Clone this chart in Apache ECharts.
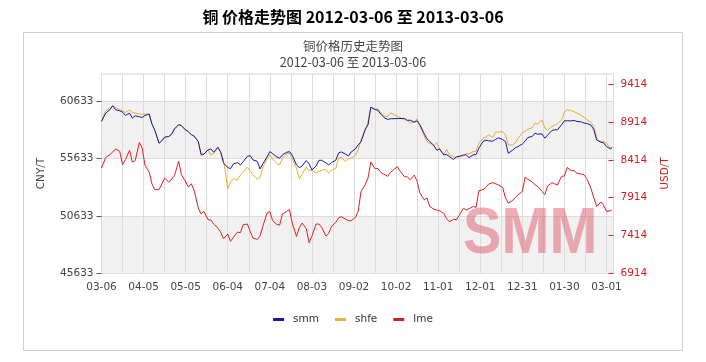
<!DOCTYPE html>
<html><head><meta charset="utf-8">
<script src="https://cdn.jsdelivr.net/npm/echarts@6/dist/echarts.min.js"></script>
<style>html,body{margin:0;padding:0;background:#fff;}#c{width:706px;height:362px;}</style>
</head><body><div id="c"></div>
<script>
const startDate = '2012-03-06';
const dates = [
'2012-03-06','2012-03-07','2012-03-09','2012-03-12','2012-03-14','2012-03-16','2012-03-19','2012-03-21','2012-03-23','2012-03-26',
'2012-03-28','2012-03-30','2012-04-02','2012-04-04','2012-04-06','2012-04-09','2012-04-11','2012-04-13','2012-04-16','2012-04-18',
'2012-04-20','2012-04-23','2012-04-25','2012-04-27','2012-04-30','2012-05-02','2012-05-04','2012-05-07','2012-05-09','2012-05-11',
'2012-05-14','2012-05-16','2012-05-18','2012-05-21','2012-05-23','2012-05-25','2012-05-28','2012-05-30','2012-06-01','2012-06-04',
'2012-06-06','2012-06-08','2012-06-11','2012-06-13','2012-06-15','2012-06-18','2012-06-20','2012-06-22','2012-06-25','2012-06-27',
'2012-06-29','2012-07-02','2012-07-04','2012-07-06','2012-07-09','2012-07-11','2012-07-13','2012-07-16','2012-07-18','2012-07-20',
'2012-07-23','2012-07-25','2012-07-27','2012-07-30','2012-08-01','2012-08-03','2012-08-06','2012-08-08','2012-08-10','2012-08-13',
'2012-08-15','2012-08-17','2012-08-20','2012-08-22','2012-08-24','2012-08-27','2012-08-29','2012-08-31','2012-09-03','2012-09-05',
'2012-09-07','2012-09-10','2012-09-12','2012-09-14','2012-09-17','2012-09-19','2012-09-21','2012-09-24','2012-09-26','2012-09-28',
'2012-10-01','2012-10-03','2012-10-05','2012-10-08','2012-10-10','2012-10-12','2012-10-15','2012-10-17','2012-10-19','2012-10-22',
'2012-10-24','2012-10-26','2012-10-29','2012-10-31','2012-11-02','2012-11-05','2012-11-07','2012-11-09','2012-11-12','2012-11-14',
'2012-11-16','2012-11-19','2012-11-21','2012-11-23','2012-11-26','2012-11-28','2012-11-30','2012-12-03','2012-12-05','2012-12-07',
'2012-12-10','2012-12-12','2012-12-14','2012-12-17','2012-12-19','2012-12-21','2012-12-24','2012-12-26','2012-12-28','2012-12-31',
'2013-01-02','2013-01-04','2013-01-07','2013-01-09','2013-01-11','2013-01-14','2013-01-16','2013-01-18','2013-01-21','2013-01-23',
'2013-01-25','2013-01-28','2013-01-30','2013-02-01','2013-02-04','2013-02-06','2013-02-08','2013-02-11','2013-02-13','2013-02-15',
'2013-02-18','2013-02-20','2013-02-22','2013-02-25','2013-02-27','2013-03-01','2013-03-04','2013-03-05'
];
const smm = [
58880,59120,59610,59910,60260,59910,59820,59700,59410,59610,
59170,59380,59290,59230,59410,59530,58650,58120,56980,57190,
57510,57570,57770,58240,58590,58530,58240,57980,57740,57600,
57130,56020,56020,56400,56480,56190,56630,56190,55260,54850,
54760,55170,55290,55080,55370,55840,55900,55520,55400,54730,
55170,55780,56250,56070,55780,55670,55960,56190,56250,55930,
55080,54850,54990,55460,55170,54640,54990,55490,55490,55260,
55080,55290,55490,56130,56220,56020,55870,56220,56480,56840,
57100,58210,58590,60140,59930,59880,59530,59170,59060,59120,
null,null,null,59150,58970,59000,58820,58940,58590,57830,
57360,57130,56780,56370,56480,55960,55990,55810,55550,55810,
55810,55960,55960,55720,55960,55990,56540,57130,57240,57190,
57160,57330,57450,57300,57130,56100,56370,56570,56690,56920,
57160,57480,57570,57860,57770,57800,57420,57680,58090,58150,
58150,58590,58940,58940,58940,58970,58880,58850,58740,58710,
58560,58150,57270,57070,57010,56690,56480,56600
];
const shfe = [
58880,59290,59820,60050,60200,60110,59910,59790,59670,59880,
59670,59610,59530,59500,59530,59530,58650,58120,56980,57190,
57510,57570,57770,58240,58590,58530,58240,57980,57740,57600,
57130,55870,56020,56400,55930,56100,56630,56220,55490,52980,
53590,53880,53760,54200,54440,54880,54580,54200,53850,53970,
54850,55610,55960,55610,55200,55080,55670,56100,56130,55640,
54790,53880,54260,54910,54580,54610,54380,54550,54610,54700,
54350,54640,54760,55690,55750,55370,55610,55670,55930,56400,
57270,58060,58880,60080,59910,59990,59670,59320,59320,59640,
null,null,null,59030,59030,58740,58850,59120,58440,57650,
57100,56980,56780,57040,56460,55960,56460,55960,55810,55670,
55900,55840,56080,56050,56250,56280,56980,57420,57540,57710,
57480,57950,57950,58010,57710,56840,56810,57010,57420,57890,
58030,58210,58330,58740,58650,59030,58300,58120,58440,58530,
58680,59030,59700,59910,59820,59730,59610,59410,59260,59030,
58790,58440,57420,57070,57130,56980,56540,56690
];
const lme = [
8307,8321,8449,8484,8520,8560,8529,8352,8418,8542,
8387,8405,8648,8573,8343,8254,8095,8020,8020,8095,
8175,8121,8161,8206,8396,8219,8157,8055,8099,8015,
7776,7697,7732,7621,7617,7564,7511,7453,7369,7431,
7334,7387,7458,7449,7555,7564,7466,7378,7360,7404,
7533,7710,7732,7608,7559,7550,7697,7732,7754,7577,
7400,7515,7577,7502,7316,7404,7564,7564,7519,7404,
7440,7533,7586,7648,7661,7630,7608,7608,7652,7732,
7997,8086,8175,8387,8298,8303,8250,8219,8197,8250,
8298,8325,8263,8192,8192,8152,8214,8130,7975,7887,
7909,7798,7759,7750,7741,7705,7635,7595,7626,7621,
7679,7772,7750,7767,7798,7785,8006,8020,8051,8095,
8113,8099,8082,8051,7909,7843,7874,7918,7953,7997,
8183,8161,8121,8086,8064,7997,7953,8068,8113,8099,
8082,8197,8201,8316,8272,8272,8237,8228,8219,8166,
8033,7909,7798,7856,7812,7732,7741,7750
];
const cnyTicks = [45633, 50633, 55633, 60633];
const usdTicks = [6914, 7414, 7914, 8414, 8914, 9414];
const seriesNames = ['smm', 'shfe', 'lme'];

const DAY = 86400000;
const t0 = Date.parse(startDate + 'T00:00:00Z');
const dayOf = d => Math.round((Date.parse(d + 'T00:00:00Z') - t0) / DAY);
const pad = n => (n < 10 ? '0' : '') + n;
const mmdd = day => { const t = new Date(t0 + day * DAY); return pad(t.getUTCMonth() + 1) + '-' + pad(t.getUTCDate()); };
const pairs = vals => dates.map((d, i) => [dayOf(d), vals[i]]).filter(p => p[1] !== null);

const FONT = 'DejaVu Sans';
const chart = echarts.init(document.getElementById('c'), null, {renderer: 'canvas'});
chart.setOption({
  animation: false,
  backgroundColor: '#fff',
  title: [
    {text: '铜 价格走势图 2012-03-06 至 2013-03-06', left: 'center', top: 8, padding: 0,
     textStyle: {fontFamily: 'Noto Sans CJK SC', fontWeight: 'bold', fontSize: 16, lineHeight: 18, color: '#000'}},
    {text: '铜价格历史走势图', left: 'center', top: 38, padding: 0,
     textStyle: {fontFamily: 'Noto Sans CJK SC', fontWeight: 'normal', fontSize: 12.5, lineHeight: 16, color: '#444'}},
    {text: '2012-03-06 至 2013-03-06', left: 'center', top: 54, padding: 0,
     textStyle: {fontFamily: 'Noto Sans CJK SC', fontWeight: 'normal', fontSize: 12.5, lineHeight: 16, color: '#444'}}
  ],
  legend: {
    data: seriesNames, left: 'center', top: 309, itemGap: 16, itemWidth: 11, itemHeight: 3, icon: 'rect',
    textStyle: {fontFamily: FONT, fontSize: 10.5, color: '#333', padding: [0, 0, 0, 4]}
  },
  grid: {left: 101.5, right: 92.5, top: 74, bottom: 89, show: true, borderColor: '#d6d6d6', borderWidth: 1},
  graphic: [
    {type: 'rect', shape: {x: 23.5, y: 32.5, width: 659, height: 318}, style: {fill: 'none', stroke: '#cfcfcf', lineWidth: 1}, z: 0},
    {type: 'text', x: 463, y: 203, scaleX: 0.9, z: 1, silent: true,
     style: {text: 'SMM', font: 'bold 64px "Liberation Sans"', fill: 'rgba(222,90,105,0.5)', textVerticalAlign: 'top'}}
  ],
  xAxis: {
    type: 'value', min: 0, max: 365, interval: 15,
    axisLine: {show: false}, axisTick: {show: false},
    axisLabel: {fontFamily: FONT, fontSize: 10.5, color: '#444', margin: 9,
      formatter: v => (v % 30 === 0 && v <= 360) ? mmdd(v) : ''},
    splitLine: {show: true, lineStyle: {color: '#dcdcdc', width: 1}}
  },
  yAxis: [
    {type: 'value', min: 45633, max: 63033, interval: 5000, position: 'left',
     name: 'CNY/T', nameLocation: 'middle', nameGap: 55,
     nameTextStyle: {fontFamily: FONT, fontSize: 10.5, color: '#444'},
     axisLine: {show: false},
     axisTick: {show: true, length: 5, customValues: cnyTicks, lineStyle: {color: '#555'}},
     axisLabel: {fontFamily: FONT, fontSize: 10.5, color: '#444', margin: 8,
       formatter: v => cnyTicks.includes(v) ? String(v) : ''},
     splitLine: {show: true, lineStyle: {color: '#dcdcdc', width: 1}},
     splitArea: {show: true, areaStyle: {color: ['#f1f1f1', '#ffffff']}}
    },
    {type: 'value', min: 6914, max: 9556, interval: 500, position: 'right',
     name: 'USD/T', nameLocation: 'middle', nameGap: 46,
     nameTextStyle: {fontFamily: FONT, fontSize: 10.5, color: '#d42020'},
     axisLine: {show: false},
     axisTick: {show: true, inside: true, length: 5, customValues: usdTicks, lineStyle: {color: '#d42020'}},
     axisLabel: {fontFamily: FONT, fontSize: 10.5, color: '#d42020', margin: 7,
       formatter: v => usdTicks.includes(v) ? String(v) : ''},
     splitLine: {show: false}, splitArea: {show: false}
    }
  ],
  series: [
    {name: 'smm', type: 'line', yAxisIndex: 0, showSymbol: false, symbol: 'none', data: pairs(smm),
     lineStyle: {width: 1, color: '#1818a8'}, itemStyle: {color: '#1818a8'}, z: 3},
    {name: 'shfe', type: 'line', yAxisIndex: 0, showSymbol: false, symbol: 'none', data: pairs(shfe),
     lineStyle: {width: 1, color: '#eeaa30'}, itemStyle: {color: '#e8b040'}, z: 2},
    {name: 'lme', type: 'line', yAxisIndex: 1, showSymbol: false, symbol: 'none', data: pairs(lme),
     lineStyle: {width: 1, color: '#e11e1e'}, itemStyle: {color: '#cc2222'}, z: 3}
  ]
});
</script></body></html>
